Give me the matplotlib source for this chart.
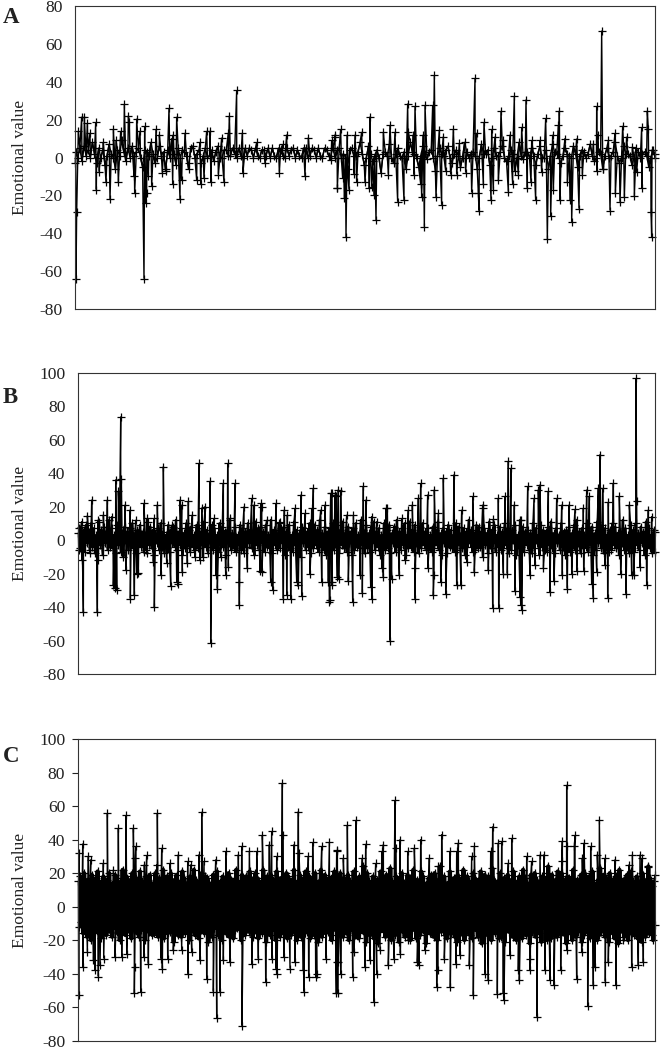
import numpy as np
import matplotlib
matplotlib.use("Agg")
import matplotlib.pyplot as plt

plt.rcParams['font.family'] = ['Liberation Serif', 'DejaVu Serif']
plt.rcParams['axes.unicode_minus'] = False

# x unit: post number along the series; the right-hand half of each list continues at RIGHT_START
RIGHT_START = 990
Y_LABEL = "Emotional value"
a_ticks = [-80, -60, -40, -20, 0, 20, 40, 60, 80]
bc_ticks = [-80, -60, -40, -20, 0, 20, 40, 60, 80, 100]

a_left = [(226,-3),(228,-64),(230,-29),(235,14),(245,21.5),(253,21.5),(262,18),(270,13),(287,18.5),(289,-17),(297,-7.5),(310,8),(318,-13),(330,-22),(340,15),(348,9),(355,-13),(362,14),(373,28),(385,22),(388,19),(402,-10),(404,-19),(410,20.5),(420,14),(432,-64),(434,16.5),(438,-24),(440,-19),(445,-10),(455,-15),(468,15),(478,12),(487,-8),(497,-6),(507,26),(518,-14),(520,12),(530,21.5),(540,-22),(545,-12),(555,13),(567,-3),(590,-12),(600,8),(602,-14),(612,-11),(620,14),(630,14),(633,-13),(655,-9),(665,10.5),(672,-13),(685,13),(688,22),(710,35.5),(727,13),(729,-8),(770,8),(795,-3),(838,-8),(848,7),(860,12),(915,-10),(925,10.5),(1005,11),(1012,-16)]
a_right = [(3,-1.4),(5,9),(15,12),(22,-16),(32,15),(38,-11),(43,-21.6),(48,-42),(52,12),(57,-17),(72,-8.5),(75,12),(80,-13),(95,13.5),(105,-13),(118,-16),(120,21.5),(125,-15.5),(132,-20),(138,-33),(160,13.5),(175,-9),(180,17),(195,13.5),(203,-23.4),(222,-22.5),(233,28.5),(235,13.5),(250,12),(252,-9),(255,27),(272,-14),(275,-21),(280,12),(283,-36.6),(285,27.6),(308,27.6),(313,43.5),(318,-21),(328,14.4),(335,-25),(340,11),(347,-7),(362,-9),(370,15),(380,-9),(388,7.4),(407,-8),(425,-18.5),(435,42),(440,13),(445,-18.7),(447,-28),(460,-14),(462,18.5),(483,-22.5),(485,15),(490,-17),(495,11),(505,-12),(513,24.6),(520,9),(535,-18),(540,12),(548,-14),(553,32.4),(565,-9),(575,16),(588,30.6),(592,-16),(603,-13),(605,9),(617,-22.5),(630,9),(635,-7.6),(647,20.6),(652,-43),(662,-31),(668,12),(670,-17),(685,17),(688,24.6),(690,-22.5),(705,10),(712,-13),(720,-22.5),(725,-34),(740,10),(747,-27),(757,-9),(790,7),(800,27),(801,-7),(803,12),(815,67),(820,-6),(835,9),(840,-28),(855,12.7),(856,-19),(870,-23.4),(878,16.7),(883,-21),(890,11),(907,5.6),(913,-20.4),(920,-7.6),(935,16),(936,-16),(952,24.6),(955,15),(963,-28.7),(965,-42),(966,4),(975,0)]
a_core = [3,0,5,-2,6,1,4,0,8,2,-3,5,0,4,-4,1,7,2,0,-6,4,1,9,3,-2,5,0,6,1,3,
          5,0,-5,4,3,1,8,2,-3,0,6,1,3,-7,4,0,10,2,-4,5,0,4,3,1,-6,5,6,0,2,4,-3,1,5,0,1,4,-2,3,6,0,0,4,4,1,1,5,2,0,5,1,
          0,5,1,5,4,0,5,1,0,4,4,1,5,0,5,1,0,5,4,1,0,5,1,4,5,0,4,1,0,5,5,0,1,5,4,0,5,1,0,5,4,1,1,5,0,4,5,0,
          2,0,-6,4,5,1,1,3,8,2,-4,0,6,2,-2,1,4,0,-8,2,3,1,7,0,-3,2,5,1,0,3,-6,1,8,3,2,0,-5,1,6,2,-1,3,4,0,-7,1,5,2,1,4,
          6,0,-3,2,4,1,-5,0,8,3,0,2,3,1,-6,0,7,2,2,4,-4,0,5,1,1,3,6,0,-2,1,4,2,-7,0,8,1,-1,3,3,0,5,1,-4,2,6,0,0,4,-6,1,
          7,3,2,0,-3,1,5,2,1,0,6,2,-5,1,4,3,0,2,7,1,-2,0,3,2,-6,1,5,0,1,3,8,1,-3,0,6,2,2,1,-4,0,5,3,0,2,3,1,-5,0,4,2]

b_left = [(236,-6),(238,7),(245,11),(246,-12),(250,-43),(262,14.5),(270,-8),(275,24),(292,-43),(293,12),(295,-12),(310,15),(322,24),(335,14),(340,-27),(345,-28.5),(347,36),(350,-30),(355,29),(362,73.6),(364,36.4),(375,21),(378,-18),(390,18),(391,-35),(403,-33),(407,12),(410,-20),(415,-19.5),(432,22),(440,13),(441,-8),(460,-13),(462,13),(463,-40),(472,21),(483,-21),(490,43.8),(500,-14),(512,-27.5),(515,9),(530,-25),(535,-26),(540,24),(545,21),(547,-19),(562,-14),(565,23),(577,15),(585,-10),(597,45.8),(600,-12),(605,19),(615,20),(630,35),(632,-61.7),(642,13),(648,-21),(652,-29),(662,-10),(670,34),(677,-21),(683,45.8),(685,-16),(690,13),(705,34),(717,-25),(718,-39),(732,20),(742,-17),(755,25),(762,21),(780,-18.5),(782,22),(785,20),(786,-19),(800,12),(812,-25),(818,-30),(828,22),(840,11),(850,-35),(853,18),(860,-33),(862,15),(872,-35),(885,19),(890,-25),(895,-27),(903,27),(905,-33.4),(915,16),(930,-20.5),(935,19),(940,31),(962,18),(965,-25),(975,21),(985,-25),(988,-37),(992,28),(995,-25),(1005,27),(1015,30),(1016,-23)]
b_right = [(0,-36),(5,28),(6,-27),(18,26),(22,-22),(32,29),(50,15),(55,-24.5),(68,-37),(70,15),(90,-21),(97,-31.5),(100,32),(108,24),(122,-28),(125,14),(126,-35.5),(140,11),(155,-17),(160,-22),(168,19),(172,19),(180,-60),(185,-23),(208,-21),(215,13),(225,-12),(235,18),(247,21),(255,-35),(256,-17),(265,25),(272,34),(293,27),(294,-17),(310,-33),(312,-21),(313,30),(325,16),(332,-25),(340,37),(347,-32.5),(372,39),(380,-27),(393,-27),(395,18),(410,-13),(428,26),(433,-19),(458,21),(460,19),(475,-18),(488,-40.4),(490,12.5),(505,25),(506,-40.4),(520,-20),(525,26),(532,-20),(535,47),(543,43),(553,21),(555,-30.5),(570,-34),(572,-39),(573,12),(575,-42),(593,32),(600,-21),(612,25),(615,-15),(625,30),(630,33),(640,-17),(655,29),(660,-31),(672,-24.5),(680,25),(695,21),(697,-21),(712,-29),(717,21),(725,-20),(735,18.5),(740,-18.5),(760,19),(761,-18.5),(770,30),(778,26),(785,-26),(790,-34.5),(800,-19),(805,31),(810,51),(818,31),(825,-15),(833,-34.5),(835,22.5),(850,34),(868,26),(872,-20),(888,-32),(898,21),(905,-21),(912,-21),(918,96.5),(920,23),(930,-16),(950,-27),(955,18),(965,14),(975,5)]
b_core = [4,-5,8,-3,6,-7,9,-2,5,-6,10,-4,7,-8,3,-5,11,-3,6,-9,8,-2,5,-6,12,-4,7,-5,3,-8,
          9,-3,6,-7,4,-10,8,-2,5,-6,7,-3,10,-5,4,-8,6,-2,9,-4,5,-7,3,-6,11,-3,8,-5,6,-9,
          4,-2,7,-6,10,-4,5,-8,3,-5,9,-7,6,-2,8,-4,12,-6,5,-3,7,-9,4,-5,10,-2,6,-7,8,-4,
          3,-6,9,-5,7,-3,5,-10,11,-4,6,-8,4,-2,9,-6,7,-5,3,-7,10,-3,8,-4,5,-9,6,-2,12,-6,
          4,-5,8,-7,3,-3,9,-6,7,-8,5,-4,10,-2,6,-5,4,-9,11,-3,7,-6,8,-2,5,-7,9,-4,3,-5,
          12,-8,6,-3,4,-6,10,-5,7,-2,8,-9,5,-4,9,-6,3,-7,11,-3,6,-5,4,-10,8,-2,7,-6,5,-4,
          10,-8,3,-5,9,-3,6,-7,12,-4,4,-6,8,-9,5,-2,7,-5,10,-6,3,-4,9,-8,6,-3,11,-5,4,-7,
          8,-2,5,-9,7,-6,10,-4,3,-5,12,-3,6,-8,9,-5,4,-7,8,-2,11,-6,5,-4,7,-9,3,-3,10,-6,
          6,-5,9,-8,4,-2,8,-7,12,-4,5,-6,7,-3,10,-9,3,-5,11,-4,6,-7,9,-2,4,-8,8,-5,10,-3,
          5,-6,7,-4,3,-7,8,-5,6,-3,11,-6,4,-9,7,-2,5,-8,9,-4,6,-5,3,-7,10,-6,8,-3,4,-5,
          7,-9,5,-4,12,-2,6,-7,3,-6,9,-5,8,-4,5,-10,7,-3,4,-8,11,-5,6,-2,9,-7,3,-4,8,-6,
          5,-5,10,-3,7,-8,4,-6,6,-2,9,-9,3,-5,12,-4,8,-7,5,-3,6,-6,4,-8,10,-5,7,-2,3,-9,
          9,-4,6,-6,5,-7,8,-3,11,-5,4,-8,7,-2,3,-6,10,-4,5,-9,6,-5,8,-7,4,-3,9,-6,12,-2,
          5,-8,7,-5,3,-4,10,-7,6,-3,8,-9,4,-6,11,-2,5,-5,9,-8,7,-4,3,-7,6,-6,10,-3,8,-5,
          4,-9,5,-2,12,-6,7,-4,3,-8,9,-5,6,-7,10,-3,4,-6,8,-2,5,-9,11,-4,7,-5,3,-8,6,-7]

c_left = [(236,-52.7),(237,32),(248,37.5),(249,-36),(262,-27),(265,30),(272,28),(280,-32),(285,-38),(295,-41.7),(300,-35),(310,26),(311,-31),(322,55.7),(340,22),(345,-30),(355,46.7),(365,-30),(378,54.5),(380,-28),(400,46.7),(403,-51.7),(404,-36),(406,29),(407,36),(422,-50.7),(432,-30),(433,25),(440,30.6),(445,-34),(470,25),(472,55.7),(483,-31),(485,35),(487,-37),(503,-31),(510,26),(520,-26),(535,31),(545,-26),(563,27),(564,-40),(572,25),(575,-27),(597,31),(600,-32),(605,56.5),(612,27),(620,-43),(640,-50.7),(647,28),(650,-66.6),(660,-50.7),(670,-32),(677,33),(690,-33),(715,31),(725,36),(726,-71),(748,33),(755,-34),(770,33),(775,-31),(787,42.5),(797,-45),(808,37),(815,45),(816,-31),(828,-37),(830,30),(831,-40),(847,73.6),(848,43),(852,-30),(870,-37),(882,37),(885,-33),(895,56.7),(897,32),(910,-38),(912,-50.7),(925,30),(926,-42),(938,38.4),(947,-42),(950,-40),(965,36),(978,-31),(988,38.4),(1009,-51.7),(1010,33.8),(1011,-33)]
c_right = [(22,33),(23,-51.7),(25,-33),(32,-40),(40,29),(52,48.7),(68,-42),(72,-27),(78,51.7),(97,29),(105,-36),(107,37.4),(120,-32),(132,-56.7),(137,26),(140,-40),(150,-26),(155,33),(160,37),(175,-35),(192,-31),(195,63.6),(197,35),(210,40),(211,-28),(233,33),(235,-20),(253,35),(262,-33),(267,-35),(272,40),(285,-26),(298,29),(320,-48),(323,-38),(325,24),(335,43),(343,-31),(360,33),(361,-48),(378,-34),(380,33),(385,38),(390,-29),(418,-35),(425,30),(430,-52.7),(433,36),(465,-40),(475,-44),(482,33),(488,47.7),(502,-52),(505,38),(515,39),(520,-51.7),(522,-55.7),(535,26),(540,-29),(545,40.7),(565,-38),(568,-44),(590,30),(600,-38),(601,-31),(605,27),(621,-65.6),(630,31),(642,31),(645,-38),(655,20),(660,-44),(672,-46.7),(692,-38),(695,27),(697,39),(710,72.6),(711,-26),(712,36),(733,36),(735,42.7),(740,-43),(755,-27),(757,29),(762,38),(773,-59),(782,36),(790,-46.7),(795,-36),(802,31),(808,51.7),(825,29),(826,-44.7),(835,-33),(855,28),(858,-46.7),(880,-20),(897,25),(905,-36),(907,31),(925,-35),(930,31),(935,29),(940,-33),(955,23.5),(965,-17),(975,19)]
c_core = [15,-12,18,-9,13,-16,20,-14,11,-18,16,-10,14,-20,19,-13,12,-15,17,-11,21,-16,10,-19,15,-12,18,-14,13,-17,
          16,-11,20,-15,12,-18,14,-9,19,-13,17,-16,11,-20,15,-12,22,-14,13,-17,18,-10,16,-15,12,-19,20,-13,14,-11,
          17,-16,10,-18,21,-14,15,-12,13,-20,18,-9,16,-15,19,-13,11,-17,14,-16,20,-11,12,-18,17,-14,15,-10,22,-19,
          13,-12,18,-16,14,-15,20,-13,11,-21,16,-9,19,-17,12,-14,15,-18,21,-11,17,-16,13,-12,14,-20,18,-15,10,-13,
          22,-17,16,-11,12,-19,15,-14,20,-10,13,-16,18,-12,17,-21,14,-15,11,-18,19,-13,16,-9,21,-17,12,-14,15,-20,
          18,-11,14,-16,13,-15,20,-18,17,-12,10,-19,16,-14,22,-13,15,-11,12,-20,19,-16,14,-17,18,-10,13,-15,21,-12,
          16,-18,11,-14,20,-13,17,-19,15,-9,12,-16,22,-15,14,-21,18,-11,13,-17,19,-14,16,-12,10,-20,21,-13,15,-18,
          17,-10,12,-16,14,-15,20,-19,18,-13,11,-17,16,-14,22,-12,13,-20,15,-9,19,-18,12,-11,17,-16,21,-15,14,-13,
          18,-19,10,-12,16,-17,20,-14,13,-21,15,-11,22,-18,12,-13,19,-16,14,-15,17,-10,11,-20,18,-14,21,-12,16,-17,
          13,-15,20,-11,14,-18,17,-12,10,-16,19,-20,15,-13,12,-9,21,-17,16,-14,11,-19,18,-15,13,-10,24,-16,14,-21,
          20,-12,15,-17,11,-14,18,-19,13,-11,16,-22,12,-15,21,-13,17,-10,14,-18,19,-16,10,-12,23,-20,15,-14,13,-17,
          18,-9,16,-21,12,-13,20,-15,14,-18,11,-16,19,-12,17,-20,13,-10,22,-14,15,-19,16,-11,10,-17,21,-13,18,-15,
          12,-22,14,-12,17,-16,19,-10,13,-18,20,-14,11,-20,16,-13,24,-15,15,-11,18,-17,12,-19,14,-9,21,-16,13,-14,
          17,-18,10,-21,19,-12,16,-15,14,-13,22,-20,11,-16,18,-10,15,-17,13,-19,20,-12,17,-14,12,-18,16,-11,21,-22,
          14,-15,19,-13,10,-17,18,-9,13,-20,23,-14,16,-16,12,-12,15,-19,20,-18,11,-11,17,-21,14,-13,19,-15,13,-10,
          16,-18,21,-14,15,-20,12,-12,18,-16,10,-19,22,-13,17,-17,14,-11,13,-22,19,-15,11,-9,20,-18,16,-14,12,-16,
          15,-21,18,-10,14,-13,17,-20,24,-12,13,-19,19,-16,10,-14,16,-18,21,-11,12,-17,20,-15,15,-13,11,-22,18,-12,
          17,-16,13,-20,22,-9,14,-18,16,-15,12,-13,19,-21,10,-17,20,-14,15,-11,18,-19,13,-12,21,-16,14,-10,11,-20,
          16,-17,23,-15,12,-14,19,-18,17,-13,10,-21,20,-11,15,-16,13,-19,18,-12,14,-22,22,-9,16,-15,11,-18,17,-14,
          19,-20,12,-13,21,-16,15,-17,10,-10,18,-19,14,-15,13,-21,20,-12,16,-18,11,-14,24,-16,17,-13,12,-20,15,-11]

PANELS = [
    ("A", a_left, a_right, a_core, (-80, 80), a_ticks, (225, 1965), 6, 309, 75, 0, 23, 157, 1.0),
    ("B", b_left, b_right, b_core, (-80, 100), bc_ticks, (233, 1965), 372.5, 674, 77.7, 0, 403, 523, 1.7),
    ("C", c_left, c_right, c_core, (-80, 100), bc_ticks, (233, 1965), 739, 1040.7, 77.7, 4, 762, 890, 3.0),
]

W, H = 662, 1048
fig = plt.figure(figsize=(W / 100, H / 100), dpi=100, facecolor="white")
RIGHT_PX = 655
FONT = 12.6

for name, left, right, core, ylim, ticks, xlim, top, bottom, lpx, ticklen, base, midy, core_lw in PANELS:
    ax = fig.add_axes([lpx / W, 1 - bottom / H, (RIGHT_PX - lpx) / W, (bottom - top) / H])
    px = np.array([p[0] for p in left] + [RIGHT_START + p[0] for p in right], float)
    pv = np.array([p[1] for p in left] + [p[1] for p in right], float)
    core_x = np.linspace(xlim[0] + 2, xlim[1], len(core))
    x = np.concatenate([px, core_x])
    y = np.concatenate([pv, np.array(core, float)])
    order = np.argsort(x, kind="stable")
    ax.plot(x[order], y[order], color="black", lw=1.0, marker="+", ms=6.0, mew=0.9,
            clip_on=False, solid_joinstyle="miter")
    ax.plot(core_x, core, color="black", lw=core_lw, solid_joinstyle="round")
    ax.set_xlim(*xlim)
    ax.set_ylim(*ylim)
    ax.set_xticks([])
    ax.set_yticks(ticks)
    ax.tick_params(axis="y", length=ticklen, width=0.8, pad=(12.4 - ticklen * 1.39) * 0.72 if ticklen else 8.8,
                   labelsize=FONT, color="#222222", labelcolor="#222222")
    for s in ax.spines.values():
        s.set_color("#333333")
        s.set_linewidth(0.8)
    fig.text(20.5 / W, 1 - midy / H, Y_LABEL, rotation=90, ha="center", va="center",
             fontsize=FONT, color="#222222")
    fig.text(3 / W, 1 - base / H, name, ha="left", va="baseline", fontsize=16.5,
             fontweight="bold", color="#222222")

fig.savefig("out.png", dpi=100)
